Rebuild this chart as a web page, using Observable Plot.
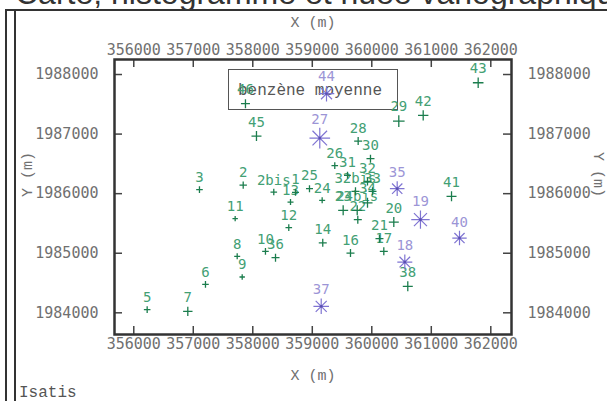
<!DOCTYPE html>
<html><head><meta charset="utf-8">
<script src="https://cdn.jsdelivr.net/npm/d3@7"></script>
<script src="https://cdn.jsdelivr.net/npm/@observablehq/plot@0.6"></script>
<style>
html,body{margin:0;padding:0;background:#fff;}
#wrap{position:relative;width:607px;height:401px;overflow:hidden;}
#title{position:absolute;left:15px;top:-23px;font:32px/32px "Liberation Sans",Arial,sans-serif;color:#333;white-space:nowrap;}
.ln{position:absolute;background:#333;}
#legend{position:absolute;left:228px;top:69px;width:168px;height:39px;border:1px solid #555;background:#fff;z-index:0;}
#legend span{position:absolute;left:9px;top:13px;font:16px/16px "Liberation Mono",monospace;color:#555;white-space:nowrap;}
#isatis{position:absolute;left:19px;top:385px;font:16px/16px "Liberation Mono",monospace;color:#555;}
#chart{position:absolute;left:0;top:0;z-index:1;}
</style></head><body>
<div id="wrap">
 <div id="title">Carte, histogramme et nuée variographique</div>
 <div class="ln" style="left:5px;top:9px;width:602px;height:2px"></div>
 <div class="ln" style="left:5px;top:9px;width:2px;height:392px"></div>
 <div class="ln" style="left:14px;top:9px;width:2px;height:392px"></div>
 <div id="legend"><span>benzène moyenne</span></div>
 <div id="isatis">Isatis</div>
 <div id="chart"></div>
</div>
<script>
// station labels
const stations = ["1","2","2bis","3","5","6","7","8","9","10","11","12","13","14","16","17","18","19","20","21","22","23","24","24bis","25","26","27","28","29","30","31","32","32bis","33","34","35","36","37","38","40","41","42","43","44","45","46"];
// X (m)
const xs = [358718,357839,358353,357104,356225,357205,356908,357738,357822,358213,357704,358605,358634,359176,359642,360202,360555,360818,360370,360129,359765,359519,359166,359755,358953,359378,359126,359771,360454,359978,359592,359928,359726,360012,359928,360427,358382,359150,360605,361474,361340,360864,361788,359239,358062,357877];
// Y (m)
const ys = [1986022,1986144,1986027,1986067,1984054,1984478,1984025,1984948,1984601,1985032,1985581,1985430,1985859,1985174,1985003,1985032,1984852,1985564,1985523,1985245,1985564,1985720,1985888,1985720,1986084,1986470,1986933,1986883,1987218,1986587,1986307,1986206,1986039,1986039,1985846,1986084,1984926,1984109,1984445,1985255,1985955,1987314,1987862,1987678,1986966,1987510];
// benzène moyenne
const benzene = [3.5,3.7,3.3,3.3,3.3,3.3,4.7,3.0,2.7,3.3,2.7,3.3,3.0,4.0,4.0,4.0,7.5,9.2,5.0,4.0,4.0,5.0,3.0,5.0,3.5,3.3,10.3,4.0,5.8,4.0,3.5,4.0,4.0,4.0,5.0,7.3,4.0,7.8,5.0,7.2,5.0,5.2,5.3,7.8,5.0,4.5];
const xTicks = [356000,357000,358000,359000,360000,361000,362000];
const yTicks = [1984000,1985000,1986000,1987000,1988000];
const seuil = 6.5;

const table = stations.map((s, i) => ({id: s, x: xs[i], y: ys[i], v: benzene[i]}));
const low = d => d.v < seuil, high = d => d.v >= seuil;

const plusSym = {draw(c, size) {const h = Math.sqrt(size / Math.PI); c.moveTo(-h, 0); c.lineTo(h, 0); c.moveTo(0, -h); c.lineTo(0, h);}};
const starSym = {draw(c, size) {const h = Math.sqrt(size / Math.PI), d = h * Math.SQRT1_2;
  c.moveTo(-h, 0); c.lineTo(h, 0); c.moveTo(0, -h); c.lineTo(0, h);
  c.moveTo(-d, -d); c.lineTo(d, d); c.moveTo(-d, d); c.lineTo(d, -d);}};

const green = "#1b7d4d", greenTxt = "#43a074", purple = "#7f74d2", purpleTxt = "#9c95d6";
const tickColor = "#707070";
const tickFont = {fontFamily: "DejaVu Sans Mono", fontSize: 15};
const fmt = d => String(d);
const W = 607, H = 401, mL = 114, mR = 96, mT = 59, mB = 67, TL = 8;
const fw = W - mL - mR, fh = H - mT - mB;

const labelMarks = [];
for (const k of Array.from(new Set(table.map(d => Math.round(d.v))))) {
  labelMarks.push(Plot.text(table, {filter: d => Math.round(d.v) === k, x: "x", y: "y", text: "id",
    dy: -(k + 9), fill: d => d.v >= seuil ? purpleTxt : greenTxt,
    fontFamily: "DejaVu Sans Mono", fontSize: 14}));
}

const chart = Plot.plot({
  width: W, height: H,
  marginLeft: mL, marginRight: mR, marginTop: mT, marginBottom: mB,
  style: {background: "transparent", overflow: "visible"},
  x: {domain: [355676, 362348], axis: null},
  y: {domain: [1983636, 1988252], axis: null},
  r: {type: "linear", domain: [0, 10], range: [0, 10]},
  color: {type: "identity"},
  marks: [
    // inward tick marks
    Plot.ruleX(xTicks, {x: d => d, insetTop: fh - TL, stroke: "#444", strokeWidth: 1.5}),
    Plot.ruleX(xTicks, {x: d => d, insetBottom: fh - TL, stroke: "#444", strokeWidth: 1.5}),
    Plot.ruleY(yTicks, {y: d => d, insetRight: fw - TL, stroke: "#444", strokeWidth: 1.5}),
    Plot.ruleY(yTicks, {y: d => d, insetLeft: fw - TL, stroke: "#444", strokeWidth: 1.5}),
    Plot.axisX(xTicks, {anchor: "bottom", tickSize: 0, tickPadding: 4, tickFormat: fmt, fill: tickColor, label: null, ...tickFont}),
    Plot.axisX(xTicks, {anchor: "top", tickSize: 0, tickPadding: 5, tickFormat: fmt, fill: tickColor, label: null, ...tickFont}),
    Plot.axisY(yTicks, {anchor: "left", tickSize: 0, tickPadding: 16, tickFormat: fmt, fill: tickColor, label: null, ...tickFont}),
    Plot.axisY(yTicks, {anchor: "right", tickSize: 0, tickPadding: 16, tickFormat: fmt, fill: tickColor, label: null, ...tickFont}),
    Plot.frame({stroke: "#333", strokeWidth: 2.5}),
    Plot.text(["X (m)"], {frameAnchor: "top", dy: -43, fill: tickColor, fontFamily: "Liberation Mono", fontSize: 15}),
    Plot.text(["X (m)"], {frameAnchor: "bottom", dy: 45, fill: tickColor, fontFamily: "Liberation Mono", fontSize: 15}),
    Plot.text(["Y (m)"], {frameAnchor: "left", dx: -87, rotate: -90, fill: tickColor, fontFamily: "Liberation Mono", fontSize: 15}),
    Plot.text(["Y (m)"], {frameAnchor: "right", dx: 87, rotate: 90, fill: tickColor, fontFamily: "Liberation Mono", fontSize: 15}),
    ...labelMarks,
    Plot.dot(table, {filter: low, x: "x", y: "y", r: "v", symbol: plusSym, fill: "none", stroke: green, strokeWidth: 1.3}),
    Plot.dot(table, {filter: high, x: "x", y: "y", r: "v", symbol: starSym, fill: "none", stroke: purple, strokeWidth: 1.2}),
    Plot.dot(table, {filter: high, x: "x", y: "y", r: 1.3, fill: "#5a4fb0", stroke: "none"})
  ]
});
document.getElementById("chart").appendChild(chart);
</script>
</body></html>
